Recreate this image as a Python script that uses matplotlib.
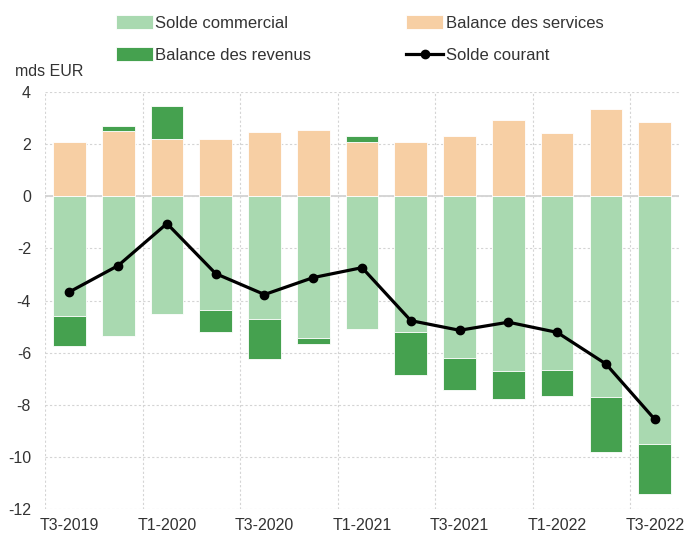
import numpy as np
import matplotlib.pyplot as plt

quarters = ['T3-2019', 'T4-2019', 'T1-2020', 'T2-2020', 'T3-2020', 'T4-2020', 'T1-2021',
            'T2-2021', 'T3-2021', 'T4-2021', 'T1-2022', 'T2-2022', 'T3-2022']
solde_commercial = [-4.58, -5.35, -4.53, -4.36, -4.70, -5.42, -5.08, -5.20, -6.20, -6.70, -6.66, -7.68, -9.49]
balance_services = [2.07, 2.50, 2.20, 2.20, 2.45, 2.54, 2.09, 2.08, 2.30, 2.91, 2.43, 3.35, 2.86]
balance_revenus = [-1.17, 0.17, 1.27, -0.83, -1.53, -0.26, 0.23, -1.66, -1.24, -1.06, -0.98, -2.11, -1.91]
solde_courant = [-3.67, -2.66, -1.05, -2.97, -3.77, -3.12, -2.74, -4.77, -5.14, -4.83, -5.22, -6.43, -8.55]

plt.rcParams['font.family'] = ['Liberation Sans', 'DejaVu Sans']
plt.rcParams['axes.unicode_minus'] = False

c_com = '#a9d9b0'
c_serv = '#f7cfa4'
c_rev = '#45a14f'
txt = '#333333'

fig = plt.figure(figsize=(6.84, 5.36), dpi=100)
ax = fig.add_axes([0.0658, 0.0498, 0.927, 0.779])

x = np.arange(len(quarters))
w = 0.67
com = np.array(solde_commercial)
serv = np.array(balance_services)
rev = np.array(balance_revenus)
# revenus empile au-dessus des services si positif, sous le commercial si negatif
rev_base = np.where(rev >= 0, serv, com)

b1 = ax.bar(x, com, w, color=c_com, edgecolor='white', linewidth=0.6, zorder=2)
b2 = ax.bar(x, serv, w, color=c_serv, edgecolor='white', linewidth=0.6, zorder=2)
b3 = ax.bar(x, rev, w, bottom=rev_base, color=c_rev, edgecolor='white', linewidth=0.6, zorder=2)
l1, = ax.plot(x, solde_courant, color='black', lw=2.3, marker='o', ms=6, zorder=4)

ax.set_xlim(-0.5, len(quarters) - 0.5)
ax.set_ylim(-12, 4)
ax.set_yticks(np.arange(-12, 5, 2))
ax.set_xticks(x[::2])
ax.set_xticklabels(quarters[::2])
ax.set_xticks(np.arange(-0.5, 12, 2), minor=True)
ax.tick_params(axis='both', which='both', length=0, labelsize=11.5, colors=txt)
ax.tick_params(axis='x', pad=6)
ax.tick_params(axis='y', pad=10)

ax.grid(axis='y', which='major', color='#d4d4d4', linestyle=(0, (2, 2)), lw=0.8, zorder=0)
ax.grid(axis='x', which='minor', color='#d4d4d4', linestyle=(0, (2, 2)), lw=0.8, zorder=0)
ax.axhline(0, color='#d0d0d0', lw=1.2, zorder=1)
for s in ax.spines.values():
    s.set_visible(False)

fig.text(0.022, 0.866, 'mds EUR', fontsize=11.5, color=txt, va='center')

fig.legend([b1, b3, b2, l1],
           ['Solde commercial', 'Balance des revenus', 'Balance des services', 'Solde courant'],
           ncol=2, loc='upper left', bbox_to_anchor=(0.148, 1.0), frameon=False,
           fontsize=12, handlelength=2.2, handleheight=0.9, handletextpad=0.15,
           columnspacing=5.7, labelspacing=1.0, labelcolor=txt)

fig.savefig('out.png', dpi=100)
